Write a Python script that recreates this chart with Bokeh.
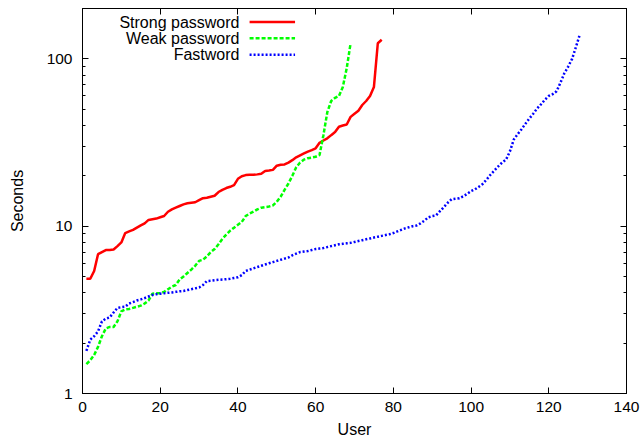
from bokeh.plotting import figure
from bokeh.models import (LinearAxis, LogAxis, FixedTicker, PrintfTickFormatter,
                          Range1d, Label, Arrow)
from bokeh.embed import file_html
from bokeh.resources import INLINE

# ---- data (seconds per user, sorted) ----
strong = [4.85, 4.85, 5.4, 6.8, 7.0, 7.2, 7.2, 7.25, 7.6, 8.0,
          9.1, 9.3, 9.5, 9.8, 10.1, 10.4, 10.9, 11.0, 11.1, 11.3,
          11.5, 12.2, 12.6, 12.9, 13.2, 13.5, 13.7, 13.8, 13.9, 14.3,
          14.7, 14.8, 15.0, 15.2, 16.0, 16.5, 16.9, 17.2, 17.6, 19.2,
          19.9, 20.2, 20.3, 20.3, 20.4, 20.6, 21.4, 21.5, 21.7, 23.0,
          23.3, 23.4, 24.0, 24.8, 25.8, 26.5, 27.2, 27.9, 28.5, 29.2,
          31.5, 32.5, 33.5, 35.0, 36.5, 39.3, 40.0, 40.5, 45.0, 47.0,
          49.0, 53.0, 56.0, 60.0, 68.0, 124.0, 130.0]
weak = [1.5, 1.58, 1.7, 1.9, 2.2, 2.45, 2.5, 2.5, 2.7, 3.1,
        3.18, 3.2, 3.25, 3.3, 3.35, 3.45, 3.6, 3.95, 3.97, 3.98,
        4.05, 4.2, 4.35, 4.45, 4.8, 5.0, 5.25, 5.5, 5.8, 6.2,
        6.3, 6.6, 7.0, 7.3, 7.8, 8.4, 8.9, 9.4, 9.8, 10.2,
        10.6, 11.5, 11.9, 12.2, 12.6, 12.9, 13.0, 13.1, 13.3, 14.0,
        15.0, 16.5, 18.0, 20.0, 22.5, 24.0, 25.0, 25.5, 25.7, 26.0,
        26.6, 35.0, 48.0, 56.0, 58.5, 60.0, 68.0, 88.0, 124.0]
fast = [1.8, 2.1, 2.2, 2.35, 2.7, 2.8, 2.85, 3.05, 3.25, 3.28,
        3.3, 3.45, 3.52, 3.6, 3.65, 3.72, 3.8, 3.88, 3.92, 3.95,
        3.97, 4.0, 4.02, 4.05, 4.08, 4.1, 4.15, 4.2, 4.25, 4.3,
        4.45, 4.7, 4.72, 4.75, 4.78, 4.8, 4.82, 4.85, 4.9, 4.95,
        5.1, 5.4, 5.5, 5.6, 5.7, 5.8, 5.9, 6.0, 6.1, 6.2,
        6.3, 6.4, 6.5, 6.7, 6.85, 7.0, 7.05, 7.1, 7.2, 7.3,
        7.35, 7.4, 7.5, 7.6, 7.7, 7.8, 7.85, 7.9, 7.95, 8.05,
        8.15, 8.25, 8.35, 8.45, 8.55, 8.65, 8.75, 8.85, 8.95, 9.1,
        9.3, 9.5, 9.7, 9.85, 10.0, 10.1, 10.4, 10.8, 11.3, 11.5,
        11.6, 12.3, 13.0, 13.8, 14.5, 14.6, 14.7, 15.1, 15.6, 16.2,
        16.6, 17.2, 17.9, 19.0, 20.3, 21.5, 22.8, 24.0, 25.0, 28.0,
        33.0, 35.5, 38.0, 41.0, 44.0, 47.0, 50.5, 53.5, 57.0, 60.0,
        61.5, 64.0, 72.0, 82.0, 90.0, 100.0, 118.0, 140.0]
series_names = ["Strong password", "Weak password", "Fastword"]
x_ticks = [0, 20, 40, 60, 80, 100, 120, 140]
y_ticks = [1, 10, 100]
y_minor = [m * d for d in (1, 10, 100) for m in range(2, 10)]

FONT = "Liberation Sans"
TICK_FS = "15.5px"
LABEL_FS = "16px"

p = figure(width=640, height=443, output_backend="svg", toolbar_location=None,
           y_axis_type="log", x_range=Range1d(0, 140), y_range=Range1d(1, 200),
           min_border_left=82, min_border_right=14, min_border_top=8,
           min_border_bottom=50, x_axis_label="User", y_axis_label="Seconds")
p.xgrid.visible = False
p.ygrid.visible = False
p.outline_line_color = "black"
p.outline_line_alpha = 1.0
p.outline_line_width = 1
p.background_fill_color = "white"
p.border_fill_color = "white"


def style(ax, ticks, minor, show_labels):
    ax.ticker = FixedTicker(ticks=ticks, minor_ticks=minor)
    ax.major_tick_in = 6
    ax.major_tick_out = 0
    ax.minor_tick_in = 3
    ax.minor_tick_out = 0
    ax.axis_line_color = "black"
    ax.major_tick_line_color = "black"
    ax.minor_tick_line_color = "black" if minor else None
    ax.formatter = PrintfTickFormatter(format="%d")
    ax.major_label_text_font = FONT
    ax.major_label_text_font_size = TICK_FS
    ax.major_label_text_color = "black"
    if show_labels:
        ax.axis_label_text_font = FONT
        ax.axis_label_text_font_size = LABEL_FS
        ax.axis_label_text_font_style = "normal"
        ax.axis_label_text_color = "black"
    else:
        ax.major_label_overrides = {t: "" for t in ticks}
        ax.major_label_standoff = 0


style(p.xaxis[0], x_ticks, [], True)
p.xaxis[0].major_label_standoff = 8
p.xaxis[0].axis_label_standoff = 6
style(p.yaxis[0], y_ticks, y_minor, True)
p.yaxis[0].major_label_standoff = 10
p.yaxis[0].axis_label_standoff = 18

top = LinearAxis()
style(top, x_ticks, [], False)
p.add_layout(top, "above")
right = LogAxis()
style(right, y_ticks, y_minor, False)
p.add_layout(right, "right")

colors = ["#ff0000", "#00ff00", "#0000ff"]
dashes = ["solid", "4 2", "2 2"]
for vals, c, d in zip([strong, weak, fast], colors, dashes):
    xs = list(range(1, len(vals) + 1))
    p.line(xs, vals, line_color=c, line_width=2.5, line_dash=d)

# gnuplot-style key: right-aligned text, then line sample
key_y = [166, 133, 106]
for name, c, d, ky in zip(series_names, colors, dashes, key_y):
    p.add_layout(Label(x=40.4, y=ky, text=name, text_align="right",
                       text_baseline="middle", text_font=FONT,
                       text_font_size=LABEL_FS, text_color="black"))
    p.add_layout(Arrow(x_start=43.0, y_start=ky, x_end=54.7, y_end=ky,
                       start=None, end=None, line_color=c, line_width=2.5,
                       line_dash=d))

open("out.html", "w").write(file_html(p, INLINE))
